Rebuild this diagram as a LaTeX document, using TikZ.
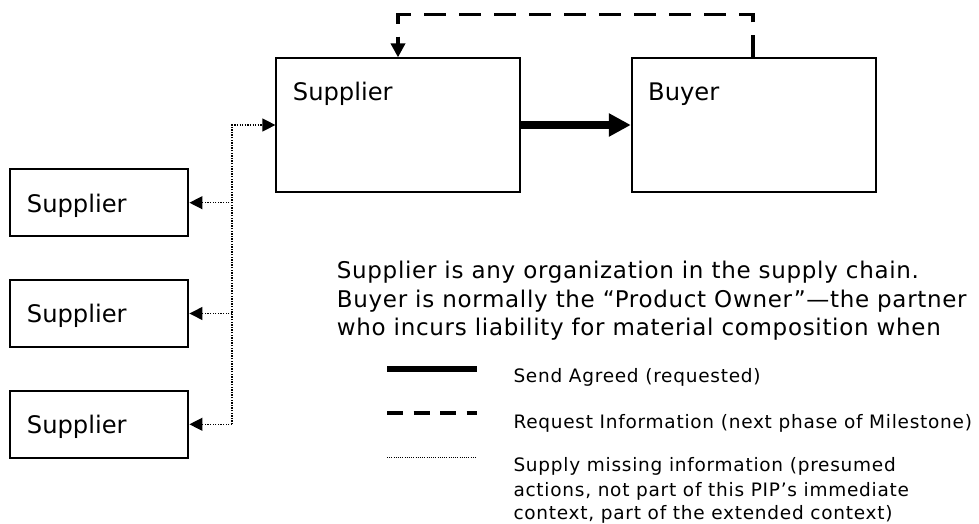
\documentclass[tikz,border=0pt]{standalone}
\usepackage{fontspec}
\setmainfont{DejaVu Sans}
\newfontfamily\bodyfont[LetterSpace=3]{DejaVu Sans}
\newfontfamily\legfont[LetterSpace=4]{DejaVu Sans}
\usetikzlibrary{arrows.meta}
\begin{document}
\begin{tikzpicture}[x=1pt,y=-1pt,
  bigbox/.style={draw=black,line width=1.8pt,minimum width=244pt,minimum height=133.4pt,inner sep=0pt},
  smallbox/.style={draw=black,line width=2.2pt,minimum width=178.3pt,minimum height=66.7pt,inner sep=0pt},
  boxtext/.style={anchor=base west,inner sep=0pt,font=\fontsize{24.2pt}{28pt}\selectfont},
  bodytext/.style={anchor=base west,inner sep=0pt,font=\bodyfont\fontsize{23pt}{28pt}\selectfont},
  legtext/.style={anchor=base west,inner sep=0pt,font=\legfont\fontsize{18.5pt}{22pt}\selectfont},
  sendline/.style={line width=7.7pt,-{Triangle[length=22pt,width=22pt]}},
  requestline/.style={line width=3.8pt,dash pattern=on 22pt off 13pt,-{Triangle[length=14pt,width=14pt]}},
  supplyline/.style={line width=1.3pt,dash pattern=on 1.3pt off 1.3pt,-{Triangle[length=13pt,width=13pt]}}
]
\useasboundingbox (0,0) rectangle (979,524);

% main boxes
\node[bigbox] (sup) at (398.3,125) {};
\node[bigbox] (buy) at (753.7,125) {};
\node[boxtext] (suptext) at (292.7,101) {Supplier};
\node[boxtext] (buytext) at (648,101) {Buyer};

% small supplier boxes
\node[smallbox] (s1) at (99.2,202.7) {};
\node[smallbox] (s2) at (99.2,313.5) {};
\node[smallbox] (s3) at (99.2,424.3) {};
\node[boxtext] (s1text) at (26.7,212) {Supplier};
\node[boxtext] (s2text) at (26.7,322.8) {Supplier};
\node[boxtext] (s3text) at (26.7,433.6) {Supplier};

% coordinates
\coordinate (dtopr) at (753,14.5);
\coordinate (dtopl) at (398,14.5);
\coordinate (dbus) at (232,125);
\coordinate (d1) at (232,202.7);
\coordinate (d2) at (232,313.5);
\coordinate (d3) at (232,424.3);

% connectors
\draw[sendline] (sup.east) -- (buy.west);
\draw[requestline] (buy.north -| dtopr) -- (dtopr) -- (dtopl) -- (sup.north -| dtopl);
\draw[supplyline] (d3) -- (dbus) -- (sup.west);
\draw[supplyline] (d1) -- (s1.east);
\draw[supplyline] (d2) -- (s2.east);
\draw[supplyline] (d3) -- (s3.east);

% description
\node[bodytext] (t1) at (336.7,278.3) {Supplier is any organization in the supply chain.};
\node[bodytext] (t2) at (336.7,307.3) {Buyer is normally the “Product Owner”—the partner};
\node[bodytext] (t3) at (336.7,335.5) {who incurs liability for material composition when};

% legend
\coordinate (l1a) at (387,369);
\coordinate (l1b) at (477,369);
\coordinate (l2a) at (387,413);
\coordinate (l2b) at (477,413);
\coordinate (l3a) at (387,457.7);
\coordinate (l3b) at (477,457.7);
\draw[line width=6.7pt] (l1a) -- (l1b);
\draw[line width=4.5pt,dash pattern=on 16pt off 10.5pt] (l2a) -- (l2b);
\draw[line width=0.9pt,dash pattern=on 1pt off 1.2pt] (l3a) -- (l3b);
\node[legtext] (g1) at (513.3,382.7) {Send Agreed (requested)};
\node[legtext] (g2) at (513.3,428.3) {Request Information (next phase of Milestone)};
\node[legtext] (g3) at (513.3,471.7) {Supply missing information (presumed};
\node[legtext] (g4) at (513.3,496) {actions, not part of this PIP’s immediate};
\node[legtext] (g5) at (513.3,519.3) {context, part of the extended context)};
\end{tikzpicture}
\end{document}
